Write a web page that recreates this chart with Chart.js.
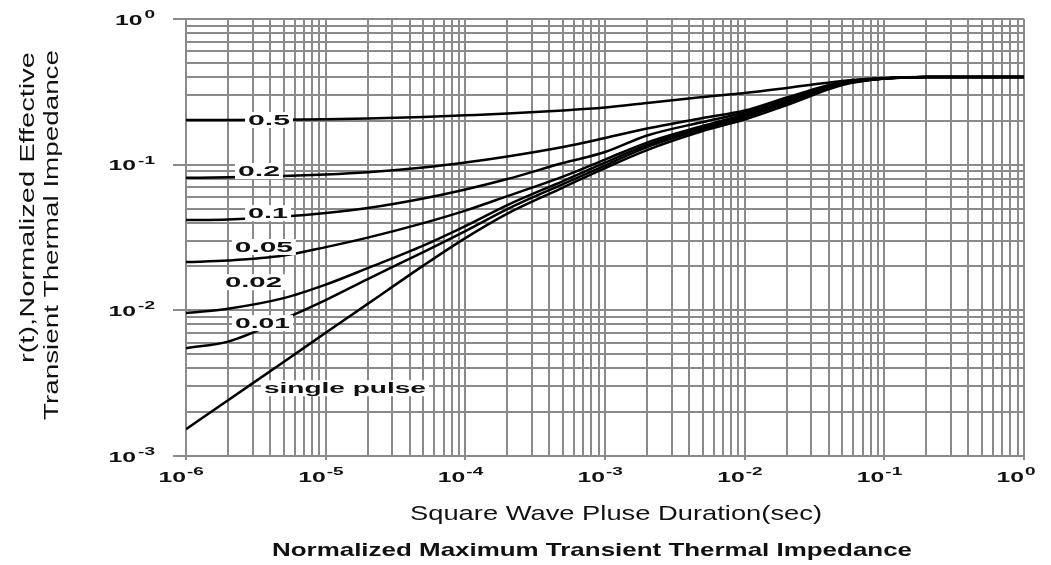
<!DOCTYPE html>
<html>
<head>
<meta charset="utf-8">
<script src="https://cdn.jsdelivr.net/npm/chart.js@4.4.1/dist/chart.umd.min.js"></script>
<style>
  html, body { margin: 0; background: #fff; }
  canvas { display: block; }
</style>
</head>
<body>
<canvas id="chart" width="1051" height="565"></canvas>
<script>
// pulse duration (sec) where the curves were read
const durations = [1e-6, 2e-6, 5e-6, 1e-5, 2e-5, 5e-5, 1e-4, 2e-4, 5e-4, 1e-3, 2e-3, 5e-3, 1e-2, 2e-2, 5e-2, 1e-1, 2e-1, 1];

// r(t) per duty cycle
const duty05 = [0.2024, 0.2024, 0.2031, 0.2047, 0.2073, 0.2123, 0.2181, 0.2244, 0.2352, 0.2466, 0.2649, 0.2912, 0.3102, 0.3358, 0.3752, 0.3934, 0.4, 0.4];
const duty02 = [0.0813, 0.0819, 0.0835, 0.0855, 0.0886, 0.0955, 0.1033, 0.1137, 0.1321, 0.1523, 0.177, 0.2089, 0.2352, 0.289, 0.3692, 0.3903, 0.4, 0.4];
const duty01 = [0.04164, 0.0421, 0.044, 0.04651, 0.05034, 0.05852, 0.06745, 0.07963, 0.1026, 0.1221, 0.1585, 0.1962, 0.2279, 0.28, 0.3663, 0.3903, 0.4, 0.4];
const duty005 = [0.02143, 0.02195, 0.02375, 0.02716, 0.03157, 0.03971, 0.04839, 0.06085, 0.08285, 0.1084, 0.1418, 0.1841, 0.2208, 0.2734, 0.3634, 0.3903, 0.4, 0.4];
const duty002 = [0.00957, 0.01027, 0.01213, 0.01502, 0.01949, 0.02782, 0.03787, 0.05279, 0.07716, 0.1033, 0.1364, 0.1798, 0.2157, 0.2691, 0.3606, 0.3903, 0.4, 0.4];
const duty001 = [0.0055, 0.0061, 0.0087, 0.01175, 0.01638, 0.02511, 0.03499, 0.04955, 0.07358, 0.09858, 0.1321, 0.1756, 0.2106, 0.2649, 0.3577, 0.3903, 0.4, 0.4];
const singlePulse = [0.001528, 0.002416, 0.00442, 0.007007, 0.01107, 0.02028, 0.03133, 0.04615, 0.06963, 0.09476, 0.126, 0.1701, 0.2041, 0.2566, 0.3521, 0.3903, 0.4, 0.4];

const curveNames = ['0.5', '0.2', '0.1', '0.05', '0.02', '0.01', 'single pulse'];
const curveValues = [duty05, duty02, duty01, duty005, duty002, duty001, singlePulse];

// decade exponents used for tick labels
const xDecades = [-6, -5, -4, -3, -2, -1, 0];
const yDecades = [-3, -2, -1, 0];

const xTitle = 'Square Wave Pluse Duration(sec)';
const yTitle = ['r(t),Normalized Effective', 'Transient Thermal Impedance'];
const chartTitle = 'Normalized Maximum Transient Thermal Impedance';

const GRID = '#8a8a8a';
const FONT = '"Liberation Sans", Arial, sans-serif';

function decadeTicks(decades) {
  const ticks = [];
  decades.forEach((e, i) => {
    const base = Math.pow(10, e);
    ticks.push({ value: base, major: true });
    if (i < decades.length - 1) {
      for (let m = 2; m <= 9; m++) ticks.push({ value: m * base, major: false });
    }
  });
  return ticks;
}

function stretchText(ctx, text, x, y, font, sx, align, baseline) {
  ctx.save();
  ctx.font = font;
  ctx.textAlign = align || 'center';
  ctx.textBaseline = baseline || 'alphabetic';
  ctx.translate(x, y);
  ctx.scale(sx, 1);
  ctx.fillText(text, 0, 0);
  ctx.restore();
}

function textWidth(ctx, text, font) {
  ctx.font = font;
  return ctx.measureText(text).width;
}

// curve label anchors in data units, with their drawn widths
const labelSpots = [
  { x: 3.93e-6, y: 0.2024, w: 42 },
  { x: 3.33e-6, y: 0.0904, w: 42 },
  { x: 3.87e-6, y: 0.0465, w: 40 },
  { x: 3.61e-6, y: 0.0272, w: 58 },
  { x: 3.04e-6, y: 0.0156, w: 57 },
  { x: 3.53e-6, y: 0.00817, w: 55 },
  { x: 1.374e-5, y: 0.00292, w: 162 },
];

const textPlugin = {
  id: 'textPlugin',
  afterDraw(chart) {
    const ctx = chart.ctx;
    const xs = chart.scales.x;
    const ys = chart.scales.y;
    ctx.save();
    ctx.fillStyle = '#111';

    // curve labels on white boxes
    const lf = 'bold 15px ' + FONT;
    curveNames.forEach((name, i) => {
      const s = labelSpots[i];
      const cx = xs.getPixelForValue(s.x);
      const cy = ys.getPixelForValue(s.y);
      ctx.fillStyle = '#fff';
      ctx.fillRect(cx - s.w / 2 - 3, cy - 8, s.w + 6, 16);
      ctx.fillStyle = '#111';
      const sx = s.w / textWidth(ctx, name, lf);
      stretchText(ctx, name, cx, cy + 1, lf, sx, 'center', 'middle');
    });

    // tick labels 10^n
    const bf = 'bold 15px ' + FONT;
    const sf = 'bold 10px ' + FONT;
    const bsx = 1.65, ssx = 1.9;
    xDecades.forEach((e) => {
      const px = xs.getPixelForValue(Math.pow(10, e));
      const sup = String(e);
      stretchText(ctx, '10', px, xs.bottom + 22, bf, bsx, 'right');
      stretchText(ctx, sup, px + 1, xs.bottom + 15, sf, ssx, 'left');
    });
    yDecades.forEach((e) => {
      const py = ys.getPixelForValue(Math.pow(10, e));
      const sup = String(e);
      const supW = textWidth(ctx, sup, sf) * ssx;
      const right = 155;
      stretchText(ctx, sup, right, py - 1, sf, ssx, 'right');
      stretchText(ctx, '10', right - supW - 2, py + 5.5, bf, bsx, 'right');
    });

    // x axis title
    const tf = '21px ' + FONT;
    stretchText(ctx, xTitle, 616, 520, tf, 412 / textWidth(ctx, xTitle, tf), 'center');

    // chart title
    const hf = 'bold 19px ' + FONT;
    stretchText(ctx, chartTitle, 592, 556, hf, 640 / textWidth(ctx, chartTitle, hf), 'center');

    // y axis title, two rotated lines
    const yf = '21px ' + FONT;
    const yLines = [{ cx: 28, top: 52, len: 311 }, { cx: 52, top: 50, len: 370 }];
    yTitle.forEach((line, i) => {
      const l = yLines[i];
      const sl = l.len / textWidth(ctx, line, yf);
      ctx.save();
      ctx.font = yf;
      ctx.translate(l.cx, l.top);
      ctx.rotate(-Math.PI / 2);
      ctx.scale(sl, 1);
      ctx.textAlign = 'right';
      ctx.textBaseline = 'middle';
      ctx.fillText(line, 0, 0);
      ctx.restore();
    });

    ctx.restore();
  },
};

const datasets = curveNames.map((name, i) => ({
  label: name,
  data: durations.map((t, j) => ({ x: t, y: curveValues[i][j] })),
  borderColor: '#000',
  borderWidth: 2.5,
  pointRadius: 0,
  fill: false,
  cubicInterpolationMode: 'monotone',
}));

function gridOpts(tickLen) {
  return {
    color: GRID,
    lineWidth: 2,
    drawTicks: true,
    tickLength: tickLen,
    tickWidth: 2,
    tickColor: (c) => (c.tick && c.tick.major ? GRID : 'rgba(0,0,0,0)'),
  };
}

new Chart(document.getElementById('chart'), {
  type: 'line',
  data: { datasets },
  options: {
    responsive: false,
    animation: false,
    layout: { padding: { left: 173, right: 27, top: 19, bottom: 105 } },
    plugins: { legend: { display: false }, tooltip: { enabled: false } },
    scales: {
      x: {
        type: 'logarithmic',
        min: 1e-6,
        max: 1,
        afterBuildTicks: (scale) => { scale.ticks = decadeTicks(xDecades); },
        ticks: { display: false },
        grid: gridOpts(4),
        border: { color: GRID, width: 2 },
      },
      y: {
        type: 'logarithmic',
        min: 1e-3,
        max: 1,
        afterBuildTicks: (scale) => { scale.ticks = decadeTicks(yDecades); },
        ticks: { display: false },
        grid: gridOpts(13),
        border: { color: GRID, width: 2 },
      },
    },
  },
  plugins: [textPlugin],
});
</script>
</body>
</html>
